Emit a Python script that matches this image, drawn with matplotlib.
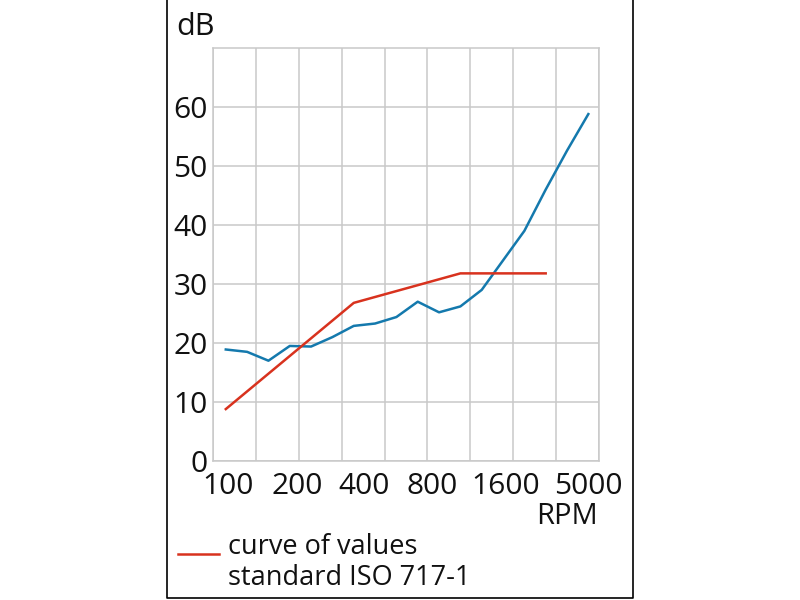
import numpy as np
import matplotlib.pyplot as plt
from matplotlib.lines import Line2D

plt.rcParams['font.family'] = ['Open Sans', 'DejaVu Sans']

# third-octave bands, 100 .. 5000 RPM
bands = [100, 125, 160, 200, 250, 315, 400, 500, 630, 800, 1000, 1250,
         1600, 2000, 2500, 3150, 4000, 5000]
measured = [18.9, 18.5, 17.0, 19.5, 19.4, 21.0, 22.9, 23.3, 24.4, 27.0,
            25.2, 26.2, 29.0, 34.0, 39.0, 46.0, 52.6, 58.8]
# ISO 717-1 reference curve (shifted), 100 .. 3150
reference = [8.8, 11.8, 14.8, 17.8, 20.8, 23.8, 26.8, 27.8, 28.8, 29.8,
             30.8, 31.8, 31.8, 31.8, 31.8, 31.8]
tick_labels = ['100', '200', '400', '800', '1600', '5000']
y_ticks = [0, 10, 20, 30, 40, 50, 60]

blue = '#1479ad'
red = '#d8321e'
grid_col = '#c9c9c9'

fig = plt.figure(figsize=(8, 6), dpi=100)
ax = fig.add_axes([213 / 800, 1 - 461 / 600, 386 / 800, 413 / 600])

x_meas = np.arange(len(measured))
x_ref = np.arange(len(reference))
ax.plot(x_meas, measured, color=blue, lw=1.8, zorder=3)
ax.plot(x_ref, reference, color=red, lw=1.8, zorder=3)

ax.set_xlim(-0.6, 17.5)
ax.set_ylim(0, 70)

# vertical grid lines every two bands (minor ticks), horizontal every 10 dB
ax.set_xticks(np.linspace(-0.6, 17.5, 10), minor=True)
ax.grid(axis='x', which='minor', color=grid_col, lw=1.1)
ax.grid(axis='y', which='major', color=grid_col, lw=1.1)
ax.tick_params(which='minor', length=0)

ax.set_xticks([0.1, 3.33, 6.48, 9.68, 13.1, 17.0])
ax.set_xticklabels(tick_labels)
ax.set_yticks(y_ticks)
ax.set_yticklabels([str(v) for v in y_ticks])
ax.tick_params(which='major', length=0, labelsize=21.5, colors='#111111')
ax.tick_params(axis='y', pad=4)
ax.tick_params(axis='x', pad=8)
for s in ax.spines.values():
    s.set_color(grid_col)
    s.set_linewidth(1.1)

fig.text(195 / 800, 1 - 27 / 600, 'dB', fontsize=22, ha='center', va='center', color='#111111')
fig.text(567 / 800, 1 - 517 / 600, 'RPM', fontsize=21, ha='center', va='center', color='#111111')

# legend
fig.add_artist(Line2D([178 / 800, 219 / 800], [1 - 554 / 600, 1 - 554 / 600],
                      color=red, lw=1.8))
fig.text(228 / 800, 1 - 547 / 600, 'curve of values', fontsize=19.5,
         ha='left', va='center', color='#111111')
fig.text(228 / 800, 1 - 578 / 600, 'standard ISO 717-1', fontsize=19.5,
         ha='left', va='center', color='#111111')

# outer frame (no top edge)
fig.add_artist(Line2D([166.5 / 800, 166.5 / 800, 633 / 800, 633 / 800],
                      [1.0, 1 - 598 / 600, 1 - 598 / 600, 1.0],
                      color='black', lw=1.2))

fig.savefig('out.png', dpi=100)
